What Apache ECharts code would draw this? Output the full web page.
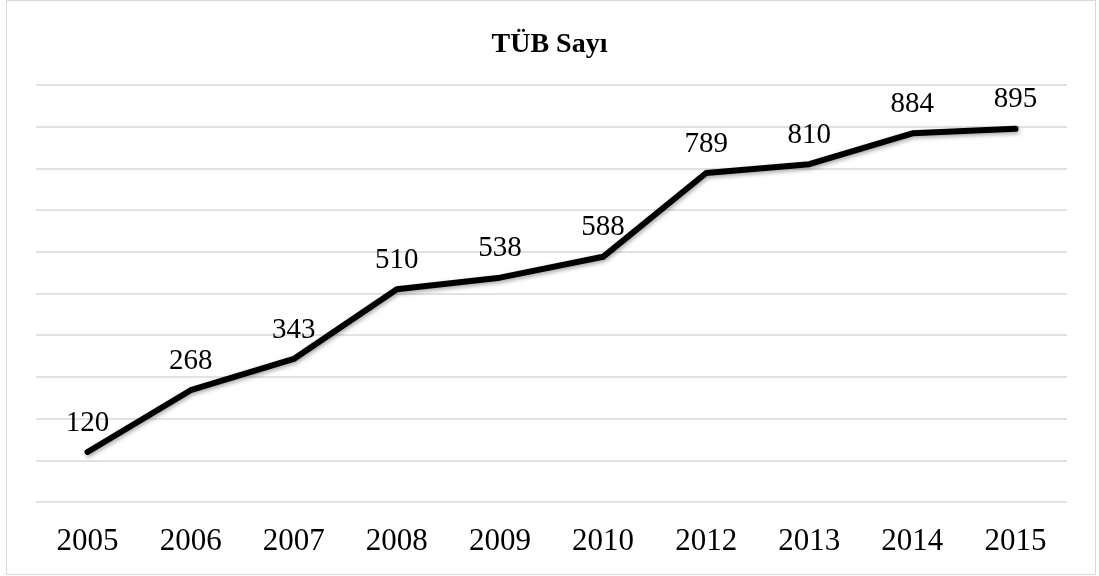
<!DOCTYPE html>
<html>
<head>
<meta charset="utf-8">
<script src="https://cdn.jsdelivr.net/npm/echarts@6/dist/echarts.min.js"></script>
<style>
  html, body { margin: 0; padding: 0; background: #fff; }
  #frame {
    position: absolute; left: 6px; top: 0; width: 1090px; height: 575px;
    border: 1px solid #d9d9d9; box-sizing: border-box;
  }
  #main { position: absolute; left: 0; top: 0; width: 1099px; height: 576px; }
</style>
</head>
<body>
<div id="frame"></div>
<div id="main"></div>
<script>
// yıllar ve TÜB sayıları
const years = ['2005', '2006', '2007', '2008', '2009', '2010', '2012', '2013', '2014', '2015'];
const tubCounts = [120, 268, 343, 510, 538, 588, 789, 810, 884, 895];

const chart = echarts.init(document.getElementById('main'));

chart.setOption({
  backgroundColor: 'transparent',
  title: {
    text: 'TÜB Sayı',
    left: 'center',
    top: 26,
    textStyle: {
      fontFamily: 'Liberation Serif',
      fontWeight: 'bold',
      fontSize: 28,
      color: '#000'
    }
  },
  grid: {
    left: 36,
    right: 32,
    top: 85,
    bottom: 74
  },
  xAxis: {
    type: 'category',
    data: years,
    boundaryGap: true,
    axisLine: { show: false },
    axisTick: { show: false },
    axisLabel: {
      margin: 24,
      fontFamily: 'Liberation Serif',
      fontSize: 31,
      color: '#000'
    }
  },
  yAxis: {
    type: 'value',
    min: 0,
    max: 1000,
    interval: 100,
    axisLabel: { show: false },
    axisLine: { show: false },
    axisTick: { show: false },
    splitLine: {
      lineStyle: { color: '#d9d9d9', width: 1.5 }
    }
  },
  series: [
    {
      name: 'TÜB Sayı',
      type: 'line',
      data: tubCounts,
      symbol: 'circle',
      symbolSize: 1,
      itemStyle: { color: '#000' },
      lineStyle: {
        color: '#000',
        width: 6,
        cap: 'round',
        join: 'round',
        shadowColor: 'rgba(0,0,0,0.35)',
        shadowBlur: 4,
        shadowOffsetX: 1,
        shadowOffsetY: 2
      },
      label: {
        show: true,
        position: 'top',
        distance: 14,
        fontFamily: 'Liberation Serif',
        fontSize: 29,
        color: '#000'
      }
    }
  ]
});
</script>
</body>
</html>
